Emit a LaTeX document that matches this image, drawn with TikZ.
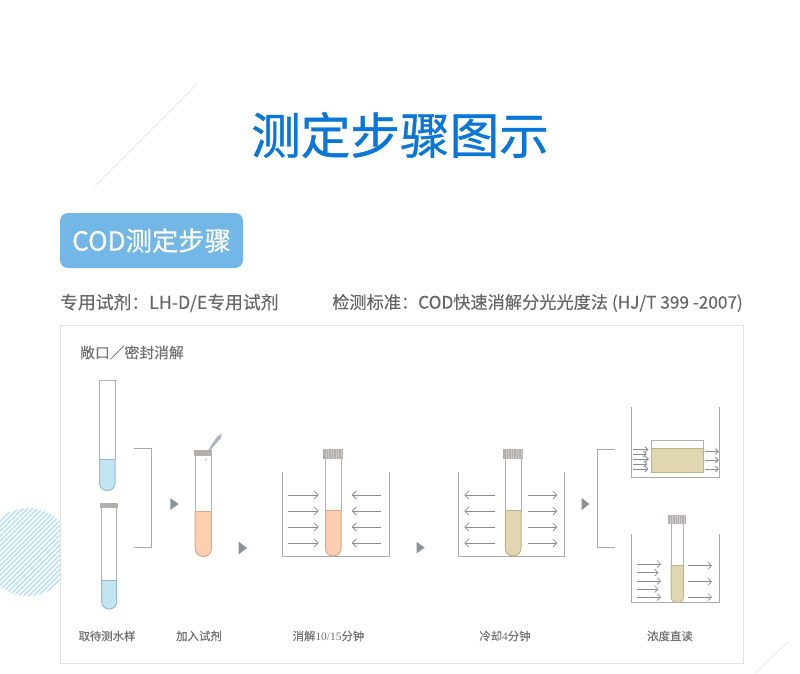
\documentclass[tikz,border=0pt]{standalone}
\usepackage{fontspec}
\setmainfont{Noto Sans CJK SC}
\newfontfamily\labelserif{Liberation Serif}
\newfontfamily\heavyfont[FakeBold=0.7]{Noto Sans CJK SC}
\newfontfamily\midfont[FakeBold=0.35]{Noto Sans CJK SC}
\newfontfamily\softfont[FakeBold=0.15]{Noto Sans CJK SC}
\usetikzlibrary{arrows.meta}
\definecolor{titleblue}{HTML}{0A76D8}
\definecolor{badgeblue}{HTML}{72B7E6}
\definecolor{spectext}{HTML}{666666}
\definecolor{labeltext}{HTML}{707070}
\definecolor{panelline}{HTML}{E2E2E2}
\definecolor{decor}{HTML}{EEEEEE}
\definecolor{hatch}{HTML}{BCE2F6}
\definecolor{glass}{HTML}{B7AFAC}
\definecolor{tank}{HTML}{ADA8A8}
\definecolor{arrowgrey}{HTML}{8A8D96}
\definecolor{trigrey}{HTML}{8B929D}
\definecolor{capgrey}{HTML}{B4AFAC}
\definecolor{liqblue}{HTML}{C3E4F2}
\definecolor{edgeblue}{HTML}{93BBCD}
\definecolor{liqorange}{HTML}{FBCFB0}
\definecolor{edgeorange}{HTML}{DDA888}
\definecolor{liqkhaki}{HTML}{E0D6B0}
\definecolor{edgekhaki}{HTML}{BDB28E}
\definecolor{pipette}{HTML}{A9B6CC}
\definecolor{droplet}{HTML}{B9CCEA}
\tikzset{
  labeltxt/.style={text=labeltext,font=\softfont\fontsize{11.4}{13}\selectfont,inner sep=0pt,anchor=center},
  glassline/.style={draw=glass,line width=1pt},
  tankline/.style={draw=tank,line width=1pt},
  flowarrow/.style={draw=arrowgrey,line width=.8pt,-{Straight Barb[length=4pt,width=8pt,line width=.8pt]}},
  smallflow/.style={draw=arrowgrey,line width=.9pt,-{Straight Barb[length=3pt,width=5.5pt,line width=.9pt]}},
  lowerflow/.style={draw=arrowgrey,line width=.7pt,-{Straight Barb[length=3.5pt,width=7pt,line width=.7pt]}},
  tritip/.style={fill=trigrey,draw=none},
}
% #1 left, #2 right, #3 top, #4 bottom, #5 liquid top, #6 liquid colour, #7 liquid edge
\newcommand{\testtube}[7]{%
  \pgfmathsetmacro{\tc}{(#1+#2)/2}%
  \pgfmathsetmacro{\tr}{(#2-#1)/2}%
  \pgfmathsetmacro{\ts}{#4-\tr}%
  \pgfmathsetmacro{\tm}{#4-.42*\tr}%
  \pgfmathsetmacro{\tl}{\tc-.58*\tr}%
  \pgfmathsetmacro{\tq}{\tc+.58*\tr}%
  \fill[#6] (#1,#5) -- (#1,\ts) .. controls (#1,\tm) and (\tl,#4) .. (\tc,#4) .. controls (\tq,#4) and (#2,\tm) .. (#2,\ts) -- (#2,#5) -- cycle;
  \draw[#7,line width=.8pt] (#1,#5) -- (#2,#5);
  \draw[#7,line width=1pt] (#1,#5) -- (#1,\ts) .. controls (#1,\tm) and (\tl,#4) .. (\tc,#4) .. controls (\tq,#4) and (#2,\tm) .. (#2,\ts) -- (#2,#5);
  \draw[glassline] (#1,#5) -- (#1,#3) (#2,#3) -- (#2,#5);
}
% ribbed screw cap: #1 left, #2 right, #3 top, #4 bottom
\newcommand{\tubecap}[4]{%
  \fill[capgrey] (#1,#3) rectangle (#2,#4);
  \pgfmathsetmacro{\capstep}{(#2-#1)/8}%
  \foreach \ci in {1,...,7}{\draw[white!35!capgrey,line width=.5pt] ({#1+\ci*\capstep},#3) -- ({#1+\ci*\capstep},#4);}
}
% plain cap
\newcommand{\plaincap}[4]{\fill[capgrey] (#1,#3) rectangle (#2,#4);}
\begin{document}
\begin{tikzpicture}[x=1pt,y=-1pt]
\useasboundingbox (0,0) rectangle (800,673);
\fill[white] (0,0) rectangle (800,673);
% background decoration
\begin{scope}
  \clip (28,552) circle[radius=44];
  \foreach \h in {-16,...,30}{
    \draw[hatch,line width=1.6pt] ({-20+\h*4.9},620) -- ({-20+\h*4.9+140},480);
  }
\end{scope}
\draw[decor,line width=1.2pt] (95,186) -- (197,84);
\draw[decor,line width=1.2pt] (755,673) -- (789,641);
% heading
\node[inner sep=0pt,text=titleblue,font=\heavyfont\fontsize{49.6}{56}\selectfont] (title) at (400,135) {测定步骤图示};
\node[fill=badgeblue,rounded corners=8pt,minimum width=183pt,minimum height=55pt,inner sep=0pt,text=white,font=\midfont\fontsize{26.3}{30}\selectfont] (badge) at (151.5,240.5) {COD测定步骤};
\node[inner sep=0pt,text=spectext,font=\softfont\fontsize{17.8}{20}\selectfont,anchor=west] (reagent) at (60,303) {专用试剂：LH-D/E专用试剂};
\node[inner sep=0pt,text=spectext,font=\softfont\fontsize{17.2}{20}\selectfont,anchor=east] (standard) at (743,303) {检测标准：COD快速消解分光光度法 (HJ/T 399 -2007)};
% panel
\draw[panelline,fill=white,line width=1pt] (60.5,325.5) rectangle (743,663);
\node[inner sep=0pt,anchor=west,text=labeltext,font=\softfont\fontsize{14.8}{17}\selectfont] (mode) at (80,352.5) {敞口／密封消解};
% step 1 tubes
\testtube{99.5}{115}{380}{490.5}{459}{liqblue}{edgeblue}
\draw[glassline] (99,380.5) -- (117,380.5);
\testtube{101.7}{116.7}{505}{609}{580}{liqblue}{edgeblue}
\plaincap{100.3}{117.7}{502.7}{508.2}
\draw[tankline] (134,448.5) -- (151.5,448.5) -- (151.5,547.5) -- (134,547.5);
\fill[tritip] (170.3,498) -- (178.6,504) -- (170.3,510) -- cycle;
% step 2 tube
\testtube{195.2}{211.4}{452}{556.5}{511}{liqorange}{edgeorange}
\plaincap{194.3}{212}{450.3}{455.5}
\fill[pipette] (208.5,450) -- (217.5,436.5) -- (222,433.5) -- (220.5,438.5) -- (210,450.5) -- cycle;
\draw[glass,line width=.6pt] (208.8,449.5) -- (217.5,437);
\fill[droplet] (206,459.5) circle[radius=1.2];
\fill[tritip] (238.5,541.5) -- (247,548) -- (238.5,554.5) -- cycle;
% step 3 tank
\draw[tankline] (282.5,472) -- (282.5,556) -- (389,556) -- (389,472);
\testtube{325.5}{341}{456}{556}{510.5}{liqorange}{edgeorange}
\tubecap{323.3}{343.3}{449.3}{458.7}
\foreach \yy in {495,511,527,543}{
  \draw[flowarrow] (288.3,\yy) -- (318.7,\yy);
  \draw[flowarrow] (381,\yy) -- (351.7,\yy);
}
\fill[tritip] (416.7,542) -- (424.6,547.5) -- (416.7,553.5) -- cycle;
% step 4 tank
\draw[tankline] (458,472) -- (458,556) -- (564.5,556) -- (564.5,472);
\testtube{505.3}{521}{456}{556}{510.5}{liqkhaki}{edgekhaki}
\tubecap{503.3}{523.3}{449.3}{458.7}
\foreach \yy in {495,511,527,543}{
  \draw[flowarrow] (494.5,\yy) -- (464.3,\yy);
  \draw[flowarrow] (527.5,\yy) -- (557.5,\yy);
}
\fill[tritip] (581.7,498) -- (589.5,504) -- (581.7,510) -- cycle;
\draw[tankline] (615,449) -- (597.5,449) -- (597.5,547) -- (615,547);
% step 5 upper tank
\draw[tankline] (631.5,407) -- (631.5,477.5) -- (719.5,477.5) -- (719.5,407);
\draw[glass,line width=.8pt] (651.5,448) -- (651.5,440.7) -- (703.3,440.7) -- (703.3,448);
\fill[liqkhaki,draw=edgekhaki,line width=.6pt] (651.5,448) rectangle (703.3,472);
\foreach \yy/\xe in {449.5/648.5,454/647,459/649,464/647.5,469/648.5}{
  \draw[smallflow] (633,\yy) -- (\xe,\yy);
}
\foreach \yy in {451.5,460,469}{
  \draw[smallflow] (704.5,\yy) -- (719,\yy);
}
% step 5 lower tank
\draw[tankline] (631.5,534) -- (631.5,602.5) -- (719.5,602.5) -- (719.5,534);
\testtube{671}{683.5}{522}{602.5}{565}{liqkhaki}{edgekhaki}
\tubecap{668}{686}{515.3}{524}
\foreach \yy/\xe in {564/661,572.7/658.5,581/661,589/658.5,597/661}{
  \draw[lowerflow] (636.7,\yy) -- (\xe,\yy);
}
\foreach \yy in {565.7,581.7,597}{
  \draw[lowerflow] (688,\yy) -- (712,\yy);
}
% captions
\node[labeltxt] (c1) at (107,636) {取待测水样};
\node[labeltxt] (c2) at (199,636) {加入试剂};
\node[labeltxt] (c3) at (328.5,636) {消解{\labelserif 10/15}分钟};
\node[labeltxt] (c4) at (505,636) {冷却{\labelserif 4}分钟};
\node[labeltxt] (c5) at (670,636) {浓度直读};
\end{tikzpicture}
\end{document}
